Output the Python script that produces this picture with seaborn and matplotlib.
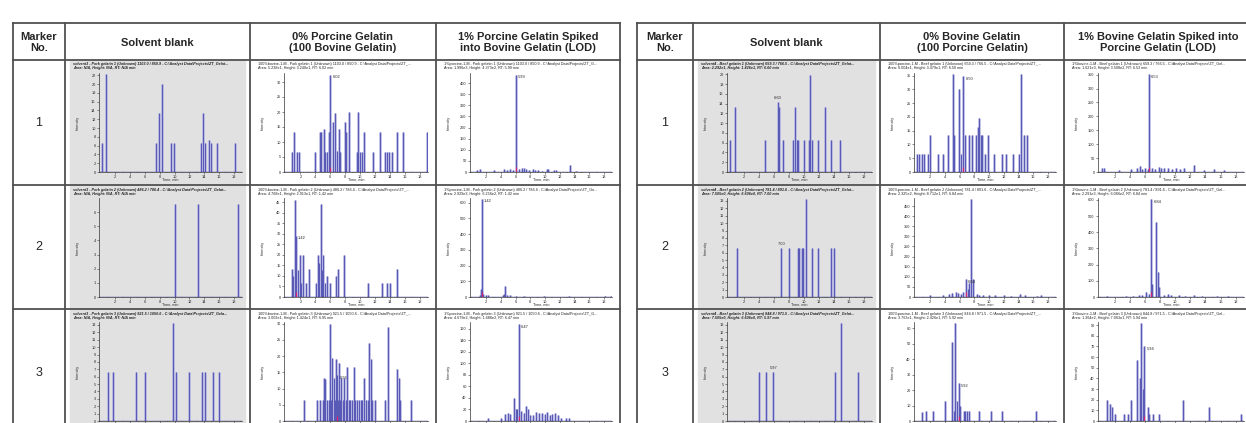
import numpy as np
import matplotlib
matplotlib.use("Agg")
import matplotlib.pyplot as plt
from matplotlib.patches import Rectangle
import seaborn as sns

# table headers
pork_headers = ["Marker\nNo.", "Solvent blank", "0% Porcine Gelatin\n(100 Bovine Gelatin)",
                "1% Porcine Gelatin Spiked\ninto Bovine Gelatin (LOD)"]
beef_headers = ["Marker\nNo.", "Solvent blank", "0% Bovine Gelatin\n(100 Porcine Gelatin)",
                "1% Bovine Gelatin Spiked into\nPorcine Gelatin (LOD)"]
marker_nos = ["1", "2", "3"]

# ---- pork markers (left table): retention time (min) / intensity ----
pk_blank1_t = [0.2, 0.8, 7.55, 7.9, 8.35, 9.55, 9.9, 13.55, 13.85, 14.1, 14.6, 14.95, 15.7, 18.2]
pk_blank1_h = [6.6, 22.2, 6.6, 13.3, 20.0, 6.6, 6.6, 6.6, 13.3, 6.6, 7.2, 6.6, 6.6, 6.6]
pk_0pc1_t = [0.9, 1.2, 1.5, 1.75, 4.0, 4.6, 4.8, 5.1, 5.25, 5.6, 5.8, 6.02, 6.35, 6.6, 6.9, 7.15, 7.35,
             8.0, 8.15, 8.45, 9.55, 9.75, 9.95, 10.2, 10.5, 11.75, 12.6, 13.3, 13.6, 13.85, 14.3, 15.0, 15.7, 18.9]
pk_0pc1_h = [6.6, 13.3, 6.6, 6.6, 6.6, 13.3, 13.3, 14.2, 6.6, 6.6, 13.3, 32.4, 16.5, 19.5, 7.0, 14.3, 6.6,
             16.5, 13.3, 20.0, 6.6, 20.0, 6.6, 6.6, 13.3, 6.6, 13.3, 6.6, 6.6, 6.6, 6.6, 13.3, 13.3, 13.3]
pk_1pc1_t = [0.7, 1.1, 3.0, 4.4, 4.8, 5.2, 5.6, 5.99, 6.4, 6.9, 7.1, 7.4, 7.8, 8.3, 8.6, 9.1, 9.6, 10.2,
             10.4, 11.2, 11.5, 13.4, 14.2]
pk_1pc1_h = [8, 12, 8, 14, 10, 12, 10, 437, 12, 20, 20, 15, 10, 12, 8, 8, 6, 12, 12, 10, 8, 30, 6]

pk_blank2_t = [10.0, 13.1, 18.5]
pk_blank2_h = [6.6, 6.6, 6.6]
pk_0pc2_t = [0.85, 1.05, 1.25, 1.42, 1.7, 1.95, 2.1, 2.35, 2.75, 3.2, 4.05, 4.35, 4.5, 4.7, 4.9, 5.05,
             5.25, 5.6, 5.9, 6.8, 7.1, 7.85, 11.0, 12.9, 13.6, 14.0, 14.9]
pk_0pc2_h = [13.3, 10, 46, 29.1, 13, 20, 6.6, 20, 6.6, 13.3, 6.6, 20, 16, 44, 13, 20,
             6.6, 10, 6.6, 10, 13.3, 20, 6.6, 6.6, 6.6, 6.6, 13.3]
pk_1pc2_t = [1.2, 1.3, 1.42, 1.6, 2.0, 2.3, 4.3, 4.45, 4.6, 4.8, 5.2, 6.0, 7.2, 9.8, 13.3, 18.2, 18.9]
pk_1pc2_h = [15, 50, 626, 20, 15, 10, 15, 20, 70, 15, 10, 8, 6, 6, 5, 8, 8]

pk_blank3_t = [0.95, 1.75, 4.75, 6.05, 9.85, 10.25, 11.9, 13.7, 14.15, 15.2, 16.0]
pk_blank3_h = [6.6, 6.6, 6.6, 6.6, 13.3, 6.6, 6.6, 6.6, 6.6, 6.6, 6.6]
pk_0pc3_t = [2.5, 4.2, 4.6, 5.15, 5.35, 5.6, 5.95, 6.2, 6.45, 6.75, 6.95, 7.2, 7.5, 7.9, 8.2, 8.7, 9.15,
             9.6, 10.1, 10.5, 11.05, 11.25, 11.45, 11.95, 13.4, 13.8, 14.9, 15.25, 15.4, 16.85,
             5.0, 5.8, 6.1, 6.6, 7.05, 7.35, 7.7, 8.05, 8.45, 8.9, 9.35, 9.8, 10.3, 10.8, 11.6]
pk_0pc3_h = [6.6, 6.6, 6.6, 13.3, 13, 6.6, 30, 19.5, 13.3, 19, 14.2, 18, 13.3, 13.3, 16.5, 6.6, 16.5,
             6.6, 6.6, 13.3, 6.6, 24, 19, 6.6, 6.6, 29, 16, 13.3, 6.6, 6.6,
             6.6, 6.6, 6.6, 6.6, 6.6, 6.6, 6.6, 6.6, 6.6, 6.6, 6.6, 6.6, 6.6, 6.6, 6.6]
pk_1pc3_t = [2.2, 4.0, 4.5, 5.0, 5.3, 5.8, 6.0, 6.2, 6.47, 6.7, 7.1, 7.4, 7.7, 8.0, 8.4, 8.8, 9.2, 9.6,
             10.0, 10.3, 10.7, 11.0, 11.3, 11.7, 12.2, 12.8, 13.3]
pk_1pc3_h = [6, 6, 12, 14, 12, 40, 20, 20, 168.8, 18, 14, 26, 20, 10, 10, 16, 14, 14,
             12, 16, 10, 12, 14, 10, 6, 6, 6]

# ---- beef markers (right table) ----
bf_blank1_t = [0.15, 0.9, 4.8, 6.6, 6.75, 7.25, 8.65, 8.8, 9.1, 9.3, 10.0, 10.65, 10.8, 11.05, 11.95,
               12.9, 13.7, 14.85]
bf_blank1_h = [6.6, 13.3, 6.6, 14.26, 13.3, 6.6, 6.6, 13.3, 6.6, 6.6, 6.6, 6.6, 19.9, 6.6, 6.6,
               13.3, 6.6, 6.6]
bf_0pc1_t = [0.25, 0.5, 0.9, 1.15, 1.7, 2.0, 3.1, 3.8, 4.4, 5.1, 5.3, 5.9, 6.25, 6.5, 6.75, 7.3, 7.65,
             8.2, 8.5, 8.65, 8.85, 9.1, 9.4, 9.8, 10.7, 11.7, 12.25, 13.3, 14.05, 14.3, 14.75, 15.1]
bf_0pc1_h = [6.6, 6.6, 6.6, 6.6, 6.6, 13.3, 6.6, 6.6, 13.3, 35.5, 13.3, 30, 6.6, 34.8, 13.3, 13.3, 13.3,
             13.3, 16.5, 19.5, 13.3, 13.3, 6.6, 13.3, 6.6, 6.6, 6.6, 6.6, 6.6, 35.5, 13.3, 13.3]
bf_1pc1_t = [0.3, 0.55, 2.6, 4.1, 4.9, 5.3, 5.6, 6.0, 6.4, 6.53, 7.0, 7.4, 7.8, 8.1, 8.5, 9.0, 9.6,
             10.1, 10.7, 11.2, 12.5, 13.8, 15.2, 16.5]
bf_1pc1_h = [14, 14, 6, 10, 14, 22, 12, 14, 12, 350.8, 14, 12, 18, 16, 16, 14, 12,
             14, 10, 14, 24, 8, 10, 8]

bf_blank2_t = [1.1, 7.0, 8.0, 9.2, 9.4, 9.75, 9.9, 10.3, 11.05, 11.9, 13.7, 14.05]
bf_blank2_h = [6.6, 6.6, 6.6, 6.6, 6.6, 6.6, 6.6, 13.3, 6.6, 6.6, 6.6, 6.6]
bf_0pc2_t = [2.0, 3.7, 4.6, 5.0, 5.5, 5.8, 6.2, 6.5, 6.84, 7.1, 7.3, 7.55, 7.8, 8.3, 8.7, 9.2, 10.0,
             10.8, 12.0, 13.0, 14.2, 14.9, 16.5, 17.1]
bf_0pc2_h = [8, 10, 15, 20, 25, 20, 15, 25, 87.1, 40, 70, 485, 90, 15, 10, 8, 12,
             12, 10, 6, 15, 12, 6, 8]
bf_1pc2_t = [1.0, 3.5, 4.4, 5.2, 5.6, 6.1, 6.5, 6.84, 7.0, 7.45, 7.7, 7.9, 8.5, 9.0, 9.5, 10.5, 11.3,
             12.5, 13.5, 15.5, 17.0]
bf_1pc2_h = [8, 6, 8, 12, 12, 30, 20, 606.6, 80, 465, 155, 60, 15, 20, 10, 15, 8, 10, 6, 6, 8]

bf_blank3_t = [4.0, 5.0, 5.97, 14.2, 14.95, 17.25]
bf_blank3_h = [6.6, 6.6, 6.6, 6.6, 13.3, 6.6]
bf_0pc3_t = [0.95, 1.45, 2.45, 4.05, 4.95, 5.2, 5.4, 5.6, 5.92, 6.1, 6.55, 6.75, 7.05, 7.3, 8.7, 10.25,
             11.7, 16.4]
bf_0pc3_h = [6, 6.6, 6.6, 13, 51, 6.6, 63.5, 13, 24.3, 10, 6.6, 6.6, 6.6, 6.6, 6.6, 6.6, 6.6, 6.6]
bf_1pc3_t = [1.05, 1.35, 1.65, 2.0, 3.3, 3.7, 4.2, 5.0, 5.35, 5.5, 5.8, 5.94, 6.35, 6.55, 7.1, 7.9,
             11.05, 14.5, 18.7]
bf_1pc3_h = [20, 16, 13, 7, 6.6, 6.6, 20, 57, 40, 92, 30, 70.6, 13, 6.6, 6.6, 6.6, 20, 13, 6.6]

# axis top / tick step per panel (rows x columns)
pk_ytop = [[22.5, 33, 445], [7.0, 47, 630], [13.4, 30.5, 172]]
pk_ystep = [[2, 5, 50], [1, 5, 100], [1, 5, 20]]
bf_ytop = [[20.3, 36, 356], [13.4, 490, 612], [13.4, 64, 93]]
bf_ystep = [[2, 5, 50], [1, 50, 100], [1, 10, 10]]

# labelled retention times (None = no label)
pk_rt = [[None, 6.02, 5.99], [None, 1.42, 1.42], [None, 6.95, 6.47]]
bf_rt = [[6.60, 6.50, 6.53], [7.00, 6.84, 6.84], [5.97, 5.92, 5.94]]

# header lines of each chromatogram
pk_src = [
    [("solvent3 - Pork gelatin 1 (Unknown) 1103.0 / 850.9 - C:\\Analyst Data\\Projects\\ZT_Gelat...",
      "Area: N/A, Height: N/A, RT: N/A min"),
     ("100%bovine-1-M - Pork gelatin 1 (Unknown) 1103.0 / 850.9 - C:\\Analyst Data\\Projects\\ZT_...",
      "Area: 5.238e1, Height: 3.240e1, RT: 6.02 min"),
     ("1%porcine-1-M - Pork gelatin 1 (Unknown) 1103.0 / 850.9 - C:\\Analyst Data\\Projects\\ZT_G...",
      "Area: 1.996e3, Height: 4.373e2, RT: 5.99 min")],
    [("solvent3 - Pork gelatin 2 (Unknown) 486.2 / 786.4 - C:\\Analyst Data\\Projects\\ZT_Gelat...",
      "Area: N/A, Height: N/A, RT: N/A min"),
     ("100%bovine-1-M - Pork gelatin 2 (Unknown) 486.2 / 786.4 - C:\\Analyst Data\\Projects\\ZT_...",
      "Area: 4.768e1, Height: 2.913e1, RT: 1.42 min"),
     ("1%porcine-1-M - Pork gelatin 2 (Unknown) 486.2 / 786.4 - C:\\Analyst Data\\Projects\\ZT_Ge...",
      "Area: 2.929e3, Height: 6.256e2, RT: 1.42 min")],
    [("solvent3 - Pork gelatin 3 (Unknown) 921.5 / 1050.6 - C:\\Analyst Data\\Projects\\ZT_Gela...",
      "Area: N/A, Height: N/A, RT: N/A min"),
     ("100%bovine-1-M - Pork gelatin 3 (Unknown) 921.5 / 1050.6 - C:\\Analyst Data\\Projects\\ZT_...",
      "Area: 3.002e1, Height: 1.424e1, RT: 6.95 min"),
     ("1%porcine-1-M - Pork gelatin 3 (Unknown) 921.5 / 1050.6 - C:\\Analyst Data\\Projects\\ZT_G...",
      "Area: 4.679e2, Height: 1.688e2, RT: 6.47 min")],
]
bf_src = [
    [("solvent4 - Beef gelatin 1 (Unknown) 659.3 / 766.5 - C:\\Analyst Data\\Projects\\ZT_Gelat...",
      "Area: 2.292e1, Height: 1.426e1, RT: 6.60 min"),
     ("100%porcine-1-M - Beef gelatin 1 (Unknown) 659.3 / 766.5 - C:\\Analyst Data\\Projects\\ZT_...",
      "Area: 6.004e1, Height: 3.479e1, RT: 6.50 min"),
     ("1%bovine-1-M - Beef gelatin 1 (Unknown) 659.3 / 766.5 - C:\\Analyst Data\\Projects\\ZT_Gel...",
      "Area: 1.621e3, Height: 3.508e2, RT: 6.53 min")],
    [("solvent4 - Beef gelatin 2 (Unknown) 781.4 / 891.6 - C:\\Analyst Data\\Projects\\ZT_Gelat...",
      "Area: 7.505e0, Height: 6.606e0, RT: 7.00 min"),
     ("100%porcine-1-M - Beef gelatin 2 (Unknown) 781.4 / 891.6 - C:\\Analyst Data\\Projects\\ZT_...",
      "Area: 2.325e2, Height: 8.712e1, RT: 6.84 min"),
     ("1%bovine-1-M - Beef gelatin 2 (Unknown) 781.4 / 891.6 - C:\\Analyst Data\\Projects\\ZT_Gel...",
      "Area: 2.291e3, Height: 6.066e2, RT: 6.84 min")],
    [("solvent4 - Beef gelatin 3 (Unknown) 844.8 / 971.5 - C:\\Analyst Data\\Projects\\ZT_Gelat...",
      "Area: 7.505e0, Height: 6.606e0, RT: 5.97 min"),
     ("100%porcine-1-M - Beef gelatin 3 (Unknown) 844.8 / 971.5 - C:\\Analyst Data\\Projects\\ZT_...",
      "Area: 3.763e1, Height: 2.426e1, RT: 5.92 min"),
     ("1%bovine-1-M - Beef gelatin 3 (Unknown) 844.8 / 971.5 - C:\\Analyst Data\\Projects\\ZT_Gel...",
      "Area: 1.364e2, Height: 7.063e1, RT: 5.94 min")],
]

pk_peaks = [[(pk_blank1_t, pk_blank1_h), (pk_0pc1_t, pk_0pc1_h), (pk_1pc1_t, pk_1pc1_h)],
            [(pk_blank2_t, pk_blank2_h), (pk_0pc2_t, pk_0pc2_h), (pk_1pc2_t, pk_1pc2_h)],
            [(pk_blank3_t, pk_blank3_h), (pk_0pc3_t, pk_0pc3_h), (pk_1pc3_t, pk_1pc3_h)]]
bf_peaks = [[(bf_blank1_t, bf_blank1_h), (bf_0pc1_t, bf_0pc1_h), (bf_1pc1_t, bf_1pc1_h)],
            [(bf_blank2_t, bf_blank2_h), (bf_0pc2_t, bf_0pc2_h), (bf_1pc2_t, bf_1pc2_h)],
            [(bf_blank3_t, bf_blank3_h), (bf_0pc3_t, bf_0pc3_h), (bf_1pc3_t, bf_1pc3_h)]]

sns.set_style("white")
plt.rcParams['font.family'] = ['Liberation Sans', 'DejaVu Sans']

W, H = 1246, 423
fig = plt.figure(figsize=(W / 100, H / 100), dpi=100)
bg = fig.add_axes([0, 0, 1, 1])
bg.set_xlim(0, W)
bg.set_ylim(H, 0)
bg.axis('off')

TOP, HEAD, BOTTOM = 23, 60, 436
row_tops = [60, 185, 309]
line_c = '#505050'
light_c = '#aeaee0'
dark_c = '#3434a4'


def px_axes(x0, y0, x1, y1):
    return fig.add_axes([x0 / W, 1 - y1 / H, (x1 - x0) / W, (y1 - y0) / H])


def draw_panel(cl, cr, rt, peaks, ytop, ystep, rt_lab, src, blank, last_row):
    if blank:
        bg.add_patch(Rectangle((cl + 5, rt + 1), cr - cl - 10, 122, color='#e1e1e1', zorder=0))
    ax0, ax1 = cl + 34, cr - 8
    ay0, ay1 = rt + 13, rt + 112
    ax = px_axes(ax0, ay0, ax1, ay1)
    ax.set_facecolor('none')
    t, h = peaks
    ax.vlines(t, 0, h, color=light_c, lw=1.8)
    ax.vlines(t, 0, h, color=dark_c, lw=0.5)
    ax.axhline(0, color=dark_c, lw=1.0)
    ax.set_xlim(-0.2, 19.1)
    ax.set_ylim(0, ytop)
    ax.set_xticks(np.arange(2, 19, 2))
    ax.set_xticks(np.arange(0, 19.1, 1), minor=True)
    ax.set_yticks(np.arange(0, ytop, ystep))
    ax.tick_params(axis='both', which='major', labelsize=2.8, length=1.6, width=0.4, pad=0.8,
                   direction='out', color='#333333', left=True, bottom=True)
    ax.tick_params(axis='x', which='minor', length=1.0, width=0.3, color='#333333', bottom=True)
    if last_row:
        # the bottom of the last row is cropped in the source picture
        ax.tick_params(axis='x', which='both', labelbottom=False)
    sns.despine(ax=ax)
    for s in ['left', 'bottom']:
        ax.spines[s].set_linewidth(0.5)
        ax.spines[s].set_color('#333333')
    if rt_lab is not None:
        i = int(np.argmin(np.abs(np.array(t) - rt_lab)))
        if blank:
            ax.annotate(f"{rt_lab:.2f}", xy=(t[i], h[i]), xytext=(0, 1.5), textcoords='offset points',
                        fontsize=2.9, ha='center', va='bottom')
        else:
            ax.annotate(f"{rt_lab:.2f}", xy=(t[i], h[i]), xytext=(1.5, -0.5), textcoords='offset points',
                        fontsize=2.9, ha='left', va='top')
            ax.vlines([t[i]], 0, ytop * 0.05, color='#e0206a', lw=0.8)
    style = 'italic' if blank else 'normal'
    weight = 'bold' if blank else 'normal'
    bg.text(cl + 8, rt + 2.5, src[0], fontsize=2.7, va='top', ha='left', style=style,
            fontweight=weight, color='#222222')
    bg.text(cl + 8, rt + 6.5, src[1], fontsize=2.7, va='top', ha='left', style=style,
            fontweight=weight, color='#222222')
    bg.text(cl + 13, (ay0 + ay1) / 2, 'Intensity', rotation=90, fontsize=2.7, ha='center', va='center')
    if not last_row:
        bg.text((ax0 + ax1) / 2, rt + 120, 'Time, min', fontsize=2.7, ha='center', va='center')


def draw_table(cols, headers, peaks, ytops, ysteps, rts, srcs):
    for y in [TOP, HEAD] + row_tops[1:]:
        bg.plot([cols[0], cols[-1]], [y, y], color=line_c, lw=1.3, solid_capstyle='projecting')
    for x in cols:
        bg.plot([x, x], [TOP, BOTTOM], color=line_c, lw=1.3, solid_capstyle='projecting')
    for i, head in enumerate(headers):
        bg.text((cols[i] + cols[i + 1]) / 2, (TOP + HEAD) / 2 + 1, head, ha='center', va='center',
                fontsize=8, fontweight='bold', linespacing=1.15)
    row_bottoms = row_tops[1:] + [BOTTOM]
    for r, num in enumerate(marker_nos):
        bg.text((cols[0] + cols[1]) / 2, (row_tops[r] + row_bottoms[r]) / 2, num,
                ha='center', va='center', fontsize=9)
        for c in range(3):
            draw_panel(cols[c + 1], cols[c + 2], row_tops[r], peaks[r][c], ytops[r][c],
                       ysteps[r][c], rts[r][c], srcs[r][c], blank=(c == 0), last_row=(r == 2))


draw_table([13, 65, 250, 436, 620], pork_headers, pk_peaks, pk_ytop, pk_ystep, pk_rt, pk_src)
draw_table([637, 693, 880, 1064, 1252], beef_headers, bf_peaks, bf_ytop, bf_ystep, bf_rt, bf_src)

fig.savefig('out.png', dpi=100)
